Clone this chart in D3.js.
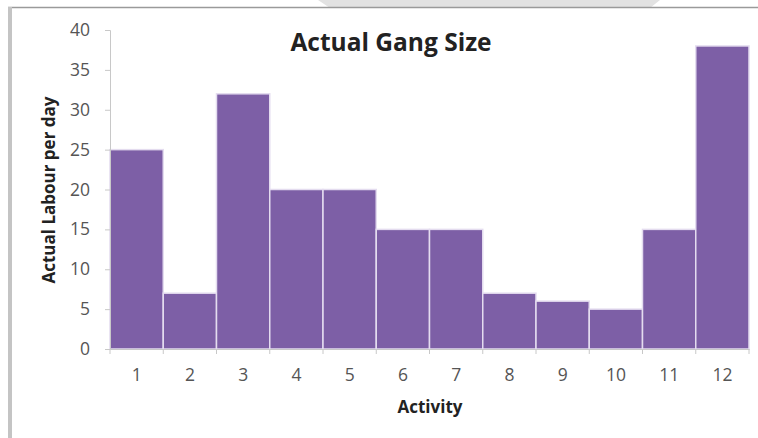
<!DOCTYPE html>
<html>
<head>
<meta charset="utf-8">
<script src="https://cdn.jsdelivr.net/npm/d3@7"></script>
<style>
  body { margin: 0; background: #fff; }
  text { font-family: "Open Sans", Lato, sans-serif; }
</style>
</head>
<body>
<div id="chart"></div>
<script>
let activities = ["1", "2", "3", "4", "5", "6", "7", "8", "9", "10", "11", "12"];
let labour = [25, 7, 32, 20, 20, 15, 15, 7, 6, 5, 15, 38];
let yTicks = [0, 5, 10, 15, 20, 25, 30, 35, 40];

let dim = { width: 758, height: 438 };

let svg = d3.select('#chart').append('svg')
    .attr('width', dim.width)
    .attr('height', dim.height);

// grey bit of the page behind the chart at the top
svg.append('polygon')
    .attr('points', '318,0 660,0 650,8 330,8')
    .attr('fill', '#e2e2e2');

// frame
svg.append('line').attr('x1', 8).attr('x2', 758).attr('y1', 7.5).attr('y2', 7.5)
    .attr('stroke', '#9a9a9a').attr('stroke-width', 1.5);
svg.append('rect').attr('x', 8).attr('y', 7).attr('width', 4).attr('height', 431)
    .attr('fill', '#c4c4c4');

let x = d3.scaleBand()
    .domain(activities)
    .range([110, 749])
    .padding(0);

let y = d3.scaleLinear()
    .domain([0, 40])
    .range([349, 30]);

// bars
svg.selectAll('rect.bar')
    .data(labour)
    .join('rect')
    .attr('class', 'bar')
    .attr('x', (d, i) => x(activities[i]))
    .attr('y', d => y(d))
    .attr('width', x.bandwidth())
    .attr('height', d => y(0) - y(d))
    .attr('fill', '#7d5fa6')
    .attr('stroke', '#e4dcef')
    .attr('stroke-width', 1.5);

// y axis
let axisY = svg.append('g')
    .attr('transform', 'translate(110,0)')
    .call(d3.axisLeft(y).tickValues(yTicks).tickSize(5).tickPadding(15));
axisY.select('.domain').attr('stroke', '#c8c8c8');
axisY.selectAll('.tick line').attr('stroke', '#c8c8c8');
axisY.selectAll('.tick text')
    .attr('fill', '#555')
    .attr('font-size', 17.5);

// x axis with ticks between the bars
let axisX = svg.append('g')
    .attr('transform', 'translate(0,349)')
    .call(d3.axisBottom(x).tickSize(0).tickPadding(20));
axisX.select('.domain').attr('stroke', '#c8c8c8');
axisX.selectAll('.tick text')
    .attr('fill', '#555')
    .attr('font-size', 17.5);

let edges = activities.map(a => x(a)).concat([x.range()[1]]);
axisX.selectAll('line.sep')
    .data(edges)
    .join('line')
    .attr('class', 'sep')
    .attr('x1', d => d).attr('x2', d => d)
    .attr('y1', 0).attr('y2', 5)
    .attr('stroke', '#c8c8c8');

// title
svg.append('text')
    .attr('x', 391)
    .attr('y', 51)
    .attr('text-anchor', 'middle')
    .attr('font-size', 24.5)
    .attr('font-weight', 'bold')
    .attr('fill', '#222')
    .text('Actual Gang Size');

// axis titles
svg.append('text')
    .attr('transform', 'translate(55,190) rotate(-90)')
    .attr('text-anchor', 'middle')
    .attr('font-size', 17)
    .attr('font-weight', 'bold')
    .attr('fill', '#222')
    .text('Actual Labour per day');

svg.append('text')
    .attr('x', 430)
    .attr('y', 413)
    .attr('text-anchor', 'middle')
    .attr('font-size', 17)
    .attr('font-weight', 'bold')
    .attr('fill', '#222')
    .text('Activity');
</script>
</body>
</html>
